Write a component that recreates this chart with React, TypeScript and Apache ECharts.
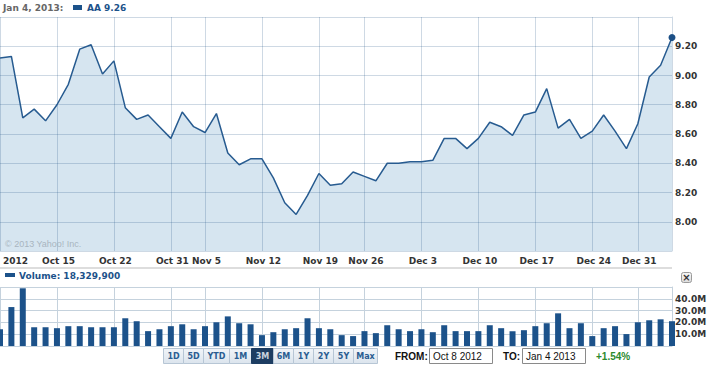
import React, { useEffect, useRef } from "react";
import * as echarts from "echarts";

const dates = [
  "Oct 8", "Oct 9", "Oct 10", "Oct 11", "Oct 12", "Oct 15", "Oct 16", "Oct 17", "Oct 18", "Oct 19",
  "Oct 22", "Oct 23", "Oct 24", "Oct 25", "Oct 26", "Oct 31", "Nov 1", "Nov 2", "Nov 5", "Nov 6",
  "Nov 7", "Nov 8", "Nov 9", "Nov 12", "Nov 13", "Nov 14", "Nov 15", "Nov 16", "Nov 19", "Nov 20",
  "Nov 21", "Nov 23", "Nov 26", "Nov 27", "Nov 28", "Nov 29", "Nov 30", "Dec 3", "Dec 4", "Dec 5",
  "Dec 6", "Dec 7", "Dec 10", "Dec 11", "Dec 12", "Dec 13", "Dec 14", "Dec 17", "Dec 18", "Dec 19",
  "Dec 20", "Dec 21", "Dec 24", "Dec 26", "Dec 27", "Dec 28", "Dec 31", "Jan 2", "Jan 3", "Jan 4",
];

const prices = [
  9.12, 9.13, 8.71, 8.77, 8.69, 8.8, 8.94, 9.18, 9.21, 9.01,
  9.1, 8.78, 8.7, 8.73, 8.65, 8.57, 8.75, 8.65, 8.61, 8.74,
  8.47, 8.39, 8.43, 8.43, 8.3, 8.13, 8.05, 8.18, 8.33, 8.25,
  8.26, 8.34, 8.31, 8.28, 8.4, 8.4, 8.41, 8.41, 8.42, 8.57,
  8.57, 8.5, 8.57, 8.68, 8.65, 8.59, 8.73, 8.75, 8.91, 8.64,
  8.7, 8.57, 8.62, 8.73, 8.62, 8.5, 8.67, 8.99, 9.07, 9.26,
];

// volume in millions
const volumes = [
  14.2, 33.0, 48.9, 15.9, 15.9, 15.1, 16.8, 16.8, 15.9, 15.9,
  15.9, 23.5, 21.0, 12.6, 14.2, 16.8, 18.4, 14.2, 16.8, 20.1,
  25.1, 19.3, 18.4, 9.2, 11.7, 14.2, 15.1, 23.5, 15.1, 14.2,
  9.2, 8.4, 12.6, 10.9, 17.6, 14.2, 12.6, 14.2, 11.7, 17.6,
  12.6, 12.6, 12.6, 17.6, 15.1, 12.6, 13.4, 16.8, 19.3, 27.7,
  15.1, 19.3, 8.4, 15.1, 16.8, 10.1, 20.1, 21.8, 22.6, 21.0,
];

const tickDates = ["Oct 8", "Oct 15", "Oct 22", "Oct 31", "Nov 5", "Nov 12", "Nov 19", "Nov 26", "Dec 3", "Dec 10", "Dec 17", "Dec 24", "Dec 31"];
const tickTexts = ["2012", "Oct 15", "Oct 22", "Oct 31", "Nov 5", "Nov 12", "Nov 19", "Nov 26", "Dec 3", "Dec 10", "Dec 17", "Dec 24", "Dec 31"];

const rangeButtons = ["1D", "5D", "YTD", "1M", "3M", "6M", "1Y", "2Y", "5Y", "Max"];
const rangeWidths = [20, 20, 26, 22, 22, 20, 20, 20, 20, 24];
const selectedRange = "3M";

const legendDate = "Jan 4, 2013:";
const legendSeries = "AA 9.26";
const volumeLegend = "Volume: 18,329,900";
const fromDate = "Oct 8 2012";
const toDate = "Jan 4 2013";
const changeText = "+1.54%";

const GRID = "rgba(30,80,130,0.22)";
const VGRID = "#c5d2dd";
const BLUE = "#1c528a";
const FONT = "DejaVu Sans";

export default function App() {
  const ref = useRef<HTMLDivElement>(null);
  useEffect(() => {
    if (!ref.current) return;
    const chart = echarts.init(ref.current, undefined, { renderer: "svg" });
    const isTick = (i: number) => tickDates.indexOf(dates[i]) >= 0;
    const labelStyle = { color: "#333", fontFamily: FONT, fontWeight: "bold" as const, fontSize: 9 };

    const buttons: any[] = [];
    let bx = 163;
    rangeButtons.forEach((b, k) => {
      const w = rangeWidths[k];
      const sel = b === selectedRange;
      buttons.push({
        type: "rect",
        shape: { x: bx + 0.5, y: 348.5, width: w, height: 15 },
        style: sel
          ? { fill: "#1d3d62", stroke: "#1d3d62", lineWidth: 1 }
          : {
              fill: new echarts.graphic.LinearGradient(0, 0, 0, 1, [
                { offset: 0, color: "#f1f5f9" },
                { offset: 1, color: "#dbe4ed" },
              ]),
              stroke: "#b7c6d5",
              lineWidth: 1,
            },
      });
      buttons.push({
        type: "text",
        x: bx + 0.5 + w / 2,
        y: 356.5,
        style: {
          text: b,
          fill: sel ? "#c9d3de" : "#2a5d91",
          font: `bold 8px '${FONT}'`,
          align: "center",
          verticalAlign: "middle",
        },
      });
      bx += w;
    });

    chart.setOption({
      animation: false,
      grid: [
        { left: 0, right: 40, top: 17, height: 234 },
        { left: 0, right: 40, top: 287, height: 59 },
      ],
      xAxis: [
        {
          type: "category",
          gridIndex: 0,
          data: dates,
          boundaryGap: false,
          z: 3,
          axisLine: { show: false },
          axisTick: { show: false },
          axisLabel: {
            ...labelStyle,
            interval: (i: number) => isTick(i),
            formatter: (v: string) => {
              const k = tickDates.indexOf(v);
              return k >= 0 ? tickTexts[k] : "";
            },
            margin: 5,
            alignMinLabel: "left",
            padding: [0, 0, 0, 3],
          },
          splitLine: { show: true, interval: (i: number) => isTick(i), lineStyle: { color: GRID, width: 1 } },
        },
        {
          type: "category",
          gridIndex: 1,
          data: dates,
          boundaryGap: false,
          axisLine: { show: false },
          axisTick: { show: false },
          axisLabel: { show: false },
          splitLine: { show: true, interval: (i: number) => isTick(i), lineStyle: { color: VGRID, width: 1 } },
        },
      ],
      yAxis: [
        {
          type: "value",
          gridIndex: 0,
          position: "right",
          min: 7.8,
          max: 9.4,
          interval: 0.2,
          z: 3,
          axisLine: { show: true, lineStyle: { color: GRID } },
          axisTick: { show: false },
          axisLabel: {
            ...labelStyle,
            margin: 3,
            showMinLabel: false,
            showMaxLabel: false,
            formatter: (v: number) => v.toFixed(2),
          },
          splitLine: { show: true, lineStyle: { color: GRID, width: 1 } },
        },
        {
          type: "value",
          gridIndex: 1,
          position: "right",
          min: 0,
          max: 50,
          interval: 10,
          axisLine: { show: true, lineStyle: { color: VGRID } },
          axisTick: { show: false },
          axisLabel: {
            ...labelStyle,
            margin: 3,
            showMinLabel: false,
            showMaxLabel: false,
            formatter: (v: number) => v.toFixed(1) + "M",
          },
          splitLine: { show: true, lineStyle: { color: VGRID, width: 1 } },
        },
      ],
      series: [
        {
          type: "line",
          xAxisIndex: 0,
          yAxisIndex: 0,
          symbol: "none",
          data: prices,
          lineStyle: { width: 0, opacity: 0 },
          areaStyle: { color: "#d6e5f0", origin: "start", opacity: 1 },
          z: 1,
          silent: true,
        },
        {
          type: "line",
          xAxisIndex: 0,
          yAxisIndex: 0,
          symbol: "none",
          showAllSymbol: true,
          data: prices.map((p, i) =>
            i === prices.length - 1 ? { value: p, symbol: "circle", symbolSize: 7 } : p
          ),
          lineStyle: { color: "#275b90", width: 1.5 },
          itemStyle: { color: "#1c4f86" },
          z: 5,
        },
        {
          type: "bar",
          xAxisIndex: 1,
          yAxisIndex: 1,
          data: volumes,
          barWidth: 6,
          itemStyle: { color: BLUE },
          clip: true,
        },
      ],
      graphic: [
        {
          type: "text",
          x: 3,
          y: 8,
          style: { text: legendDate, fill: "#666", font: `bold 9px '${FONT}'`, verticalAlign: "middle" },
        },
        { type: "rect", shape: { x: 73, y: 5, width: 9, height: 5 }, style: { fill: BLUE } },
        {
          type: "text",
          x: 87,
          y: 8,
          style: { text: legendSeries, fill: BLUE, font: `bold 9px '${FONT}'`, verticalAlign: "middle" },
        },
        {
          type: "text",
          x: 5,
          y: 244,
          z: 10,
          style: { text: "© 2013 Yahoo! Inc.", fill: "#a9b5c0", font: `9px 'Liberation Sans'`, verticalAlign: "middle" },
        },
        { type: "rect", shape: { x: 0, y: 267, width: 672, height: 2 }, style: { fill: "#dddddd" } },
        { type: "rect", shape: { x: 5, y: 273, width: 10, height: 4 }, style: { fill: BLUE } },
        {
          type: "text",
          x: 19,
          y: 276,
          style: { text: volumeLegend, fill: BLUE, font: `bold 9px '${FONT}'`, verticalAlign: "middle" },
        },
        {
          type: "rect",
          shape: { x: 681.5, y: 272.5, width: 10, height: 10, r: 2 },
          style: {
            fill: new echarts.graphic.LinearGradient(0, 0, 0, 1, [
              { offset: 0, color: "#f7f7f7" },
              { offset: 1, color: "#dcdcdc" },
            ]),
            stroke: "#9a9a9a",
            lineWidth: 1,
          },
        },
        {
          type: "text",
          x: 686.5,
          y: 277.5,
          style: { text: "×", fill: "#333", font: `bold 10px '${FONT}'`, align: "center", verticalAlign: "middle" },
        },
        ...buttons,
        {
          type: "text",
          x: 395,
          y: 356.5,
          style: { text: "FROM:", fill: "#111", font: `bold 10px 'Liberation Sans'`, verticalAlign: "middle" },
        },
        {
          type: "rect",
          shape: { x: 429.5, y: 348.5, width: 63, height: 15 },
          style: { fill: "#fff", stroke: "#8a8a8a", lineWidth: 1 },
        },
        {
          type: "text",
          x: 433,
          y: 356.5,
          style: { text: fromDate, fill: "#111", font: `10px 'Liberation Sans'`, verticalAlign: "middle" },
        },
        {
          type: "text",
          x: 503,
          y: 356.5,
          style: { text: "TO:", fill: "#111", font: `bold 10px 'Liberation Sans'`, verticalAlign: "middle" },
        },
        {
          type: "rect",
          shape: { x: 522.5, y: 348.5, width: 63, height: 15 },
          style: { fill: "#fff", stroke: "#8a8a8a", lineWidth: 1 },
        },
        {
          type: "text",
          x: 526,
          y: 356.5,
          style: { text: toDate, fill: "#111", font: `10px 'Liberation Sans'`, verticalAlign: "middle" },
        },
        {
          type: "text",
          x: 596,
          y: 356.5,
          style: { text: changeText, fill: "#2d8a2d", font: `bold 10px 'Liberation Sans'`, verticalAlign: "middle" },
        },
      ],
    });
    return () => chart.dispose();
  }, []);
  return (
    <div
      ref={ref}
      style={{ position: "fixed", left: 0, top: 0, width: 712, height: 368, background: "#fff" }}
    />
  );
}
